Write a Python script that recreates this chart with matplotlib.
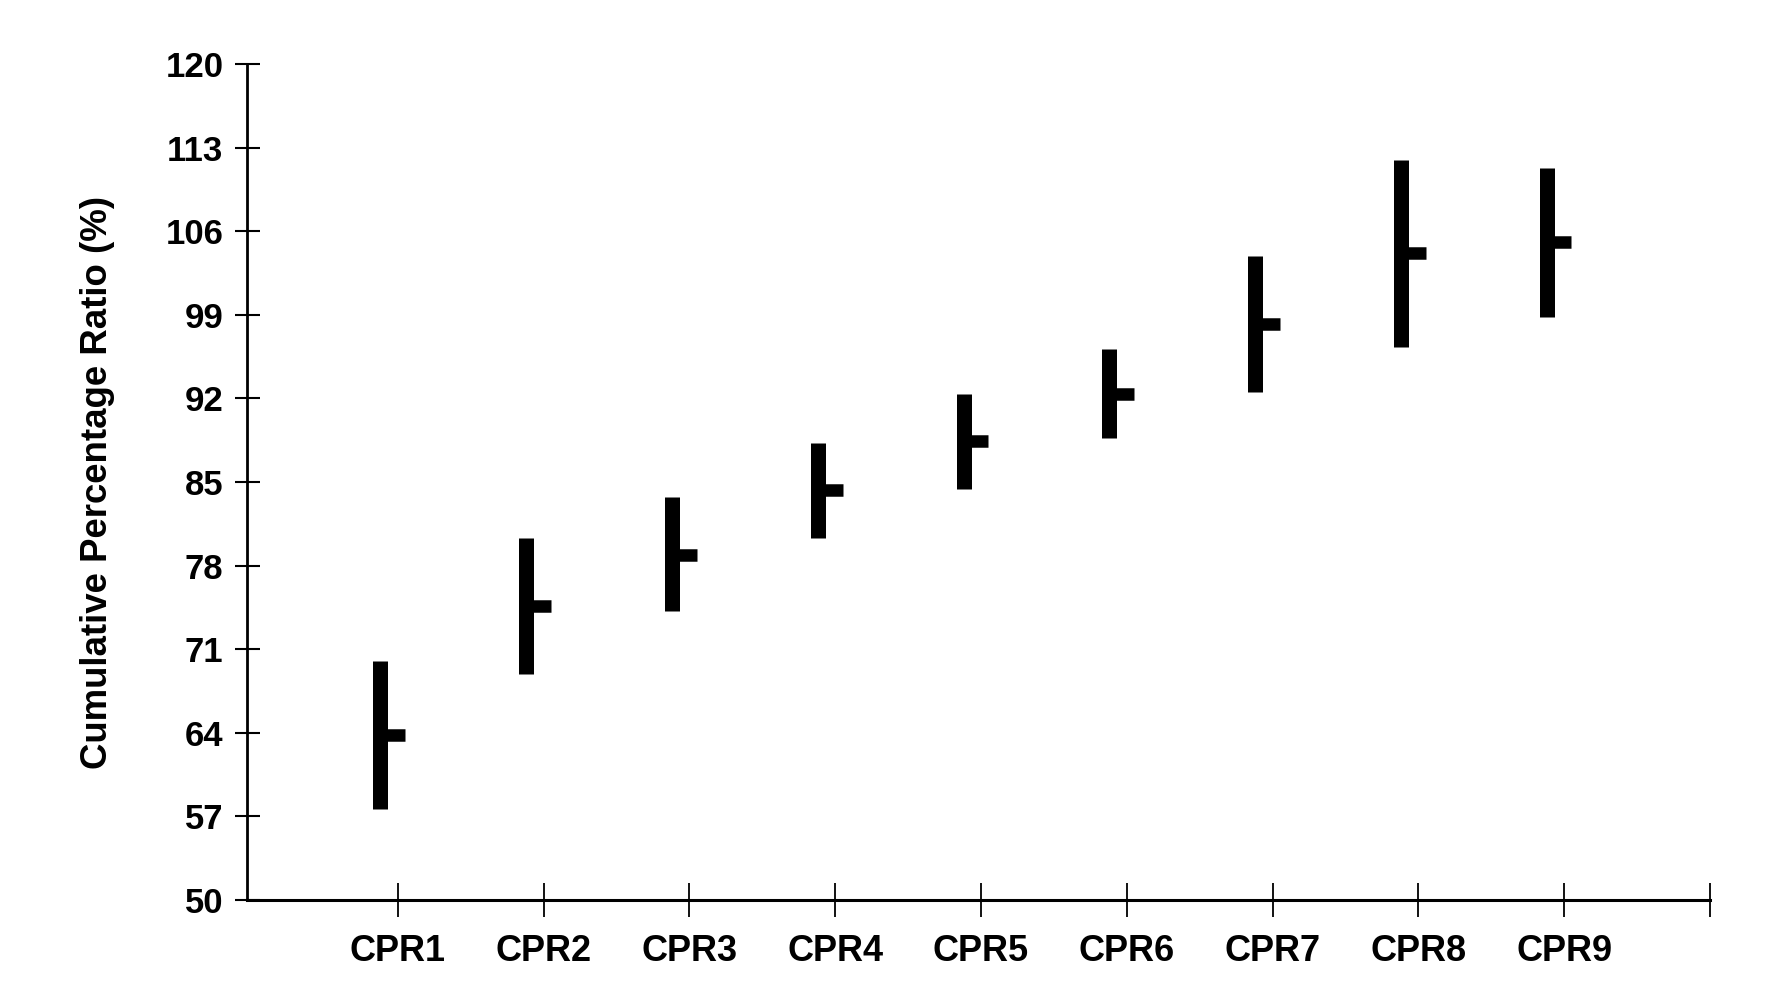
import numpy as np
import matplotlib
matplotlib.use('Agg')
import matplotlib.pyplot as plt

plt.rcParams['font.family'] = ['Liberation Sans', 'DejaVu Sans']
plt.rcParams['font.weight'] = 'bold'

# values
labels = ['CPR1', 'CPR2', 'CPR3', 'CPR4', 'CPR5', 'CPR6', 'CPR7', 'CPR8', 'CPR9']
high = [70.0, 80.3, 83.7, 88.3, 92.4, 96.1, 103.9, 112.0, 111.3]
low = [57.6, 68.9, 74.2, 80.3, 84.4, 88.7, 92.5, 96.3, 98.8]
mid = [63.8, 74.6, 78.9, 84.3, 88.4, 92.4, 98.2, 104.2, 105.1]
yticks = [50, 57, 64, 71, 78, 85, 92, 99, 106, 113, 120]

fig = plt.figure(figsize=(17.76, 9.81), dpi=100)
ax = fig.add_axes([0.1391, 0.0826, 0.8237, 0.8522])

pos = np.arange(1, len(labels) + 1)
xb = pos - 0.12
ax.vlines(xb, low, high, colors='black', linewidth=10.8, capstyle='butt')
ax.hlines(mid, xb, pos + 0.05, colors='black', linewidth=9.0, capstyle='butt')

ax.set_xlim(-0.035, 10)
ax.set_ylim(50, 120)
ax.set_yticks(yticks)
ax.set_xticks(list(pos) + [10])
ax.set_xticklabels(labels + [''])

for s in ['top', 'right']:
    ax.spines[s].set_visible(False)
ax.spines['left'].set_linewidth(2)
ax.spines['bottom'].set_linewidth(2.2)

ax.tick_params(axis='y', direction='inout', length=18, width=1.5, pad=8, labelsize=25)
ax.tick_params(axis='x', direction='inout', length=24.5, width=1.3, pad=12, labelsize=26)
for t in ax.get_xticklabels() + ax.get_yticklabels():
    t.set_fontweight('bold')

ax.set_ylabel('Cumulative Percentage Ratio (%)', fontsize=26.4, fontweight='bold', labelpad=36)

fig.savefig('out.png', dpi=100)
